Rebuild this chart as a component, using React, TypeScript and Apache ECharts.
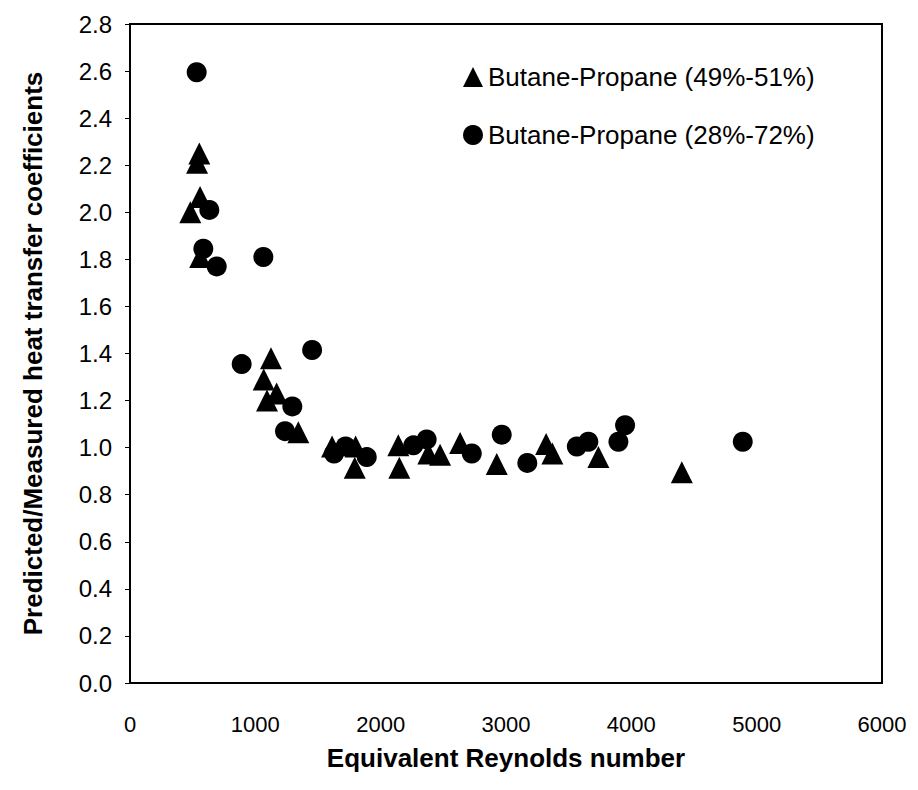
import React, { useEffect, useRef } from "react";
import * as echarts from "echarts";

const seriesNames = ["Butane-Propane (49%-51%)", "Butane-Propane (28%-72%)"];

const reynolds4951 = [553, 535, 559, 481, 560, 1125, 1067, 1170, 1093, 1343, 1612, 1800, 1793, 2141, 2149, 2380, 2474, 2634, 2926, 3320, 3370, 3737, 4403];
const ratio4951 = [2.25, 2.21, 2.065, 2.0, 1.81, 1.38, 1.29, 1.23, 1.2, 1.065, 1.005, 1.005, 0.915, 1.01, 0.915, 0.975, 0.97, 1.02, 0.93, 1.015, 0.975, 0.96, 0.895];

const reynolds2872 = [532, 633, 585, 692, 1064, 891, 1453, 1295, 1237, 1628, 1720, 1889, 2261, 2367, 2727, 2966, 3170, 3565, 3657, 3897, 3950, 4889];
const ratio2872 = [2.595, 2.01, 1.845, 1.77, 1.81, 1.355, 1.415, 1.175, 1.07, 0.975, 1.005, 0.96, 1.01, 1.035, 0.975, 1.055, 0.935, 1.005, 1.025, 1.025, 1.095, 1.025];

const xTitle = "Equivalent Reynolds number";
const yTitle = "Predicted/Measured heat transfer coefficients";

const FONT = "'Liberation Sans', Arial, sans-serif";

export default function App() {
  const ref = useRef<HTMLDivElement>(null);
  useEffect(() => {
    if (!ref.current) return;
    const chart = echarts.init(ref.current, undefined, { renderer: "svg" });
    const d1 = reynolds4951.map((x, i) => [x, ratio4951[i]]);
    const d2 = reynolds2872.map((x, i) => [x, ratio2872[i]]);
    chart.setOption({
      animation: false,
      backgroundColor: "#fff",
      grid: {
        left: 130,
        right: 36,
        top: 24,
        bottom: 107,
        show: true,
        borderColor: "#000",
        borderWidth: 2,
        backgroundColor: "transparent",
      },
      legend: {
        orient: "vertical",
        left: 458,
        top: 59,
        itemWidth: 20,
        itemHeight: 20,
        itemGap: 32,
        textStyle: { fontSize: 26, color: "#000", fontFamily: FONT },
        data: [
          { name: seriesNames[0], icon: "triangle", itemStyle: { opacity: 1 } },
          { name: seriesNames[1], icon: "circle", itemStyle: { opacity: 1 } },
        ],
      },
      xAxis: {
        type: "value",
        min: 0,
        max: 6000,
        interval: 1000,
        name: xTitle,
        nameLocation: "middle",
        nameGap: 62,
        nameTextStyle: { fontSize: 26, fontWeight: "bold", color: "#000", fontFamily: FONT },
        axisLine: { show: true, lineStyle: { color: "#000", width: 2 } },
        axisTick: { show: false },
        axisLabel: { fontSize: 22, color: "#000", fontFamily: FONT, margin: 30, formatter: (v: number) => String(v) },
        splitLine: { show: false },
      },
      yAxis: {
        type: "value",
        min: 0,
        max: 2.8,
        interval: 0.2,
        name: yTitle,
        nameLocation: "middle",
        nameGap: 84,
        nameRotate: 90,
        nameTextStyle: { fontSize: 26, fontWeight: "bold", color: "#000", fontFamily: FONT },
        axisLine: { show: true, lineStyle: { color: "#000", width: 2 } },
        axisTick: { show: true, inside: false, length: 5, lineStyle: { color: "#000", width: 1 } },
        axisLabel: {
          fontSize: 24,
          color: "#000",
          fontFamily: FONT,
          margin: 18,
          formatter: (v: number) => v.toFixed(1),
        },
        splitLine: { show: false },
      },
      series: [
        {
          name: seriesNames[0],
          type: "scatter",
          symbol: "triangle",
          symbolSize: 22,
          itemStyle: { color: "#000", opacity: 1 },
          data: d1,
        },
        {
          name: seriesNames[1],
          type: "scatter",
          symbol: "circle",
          symbolSize: 20,
          itemStyle: { color: "#000", opacity: 1 },
          data: d2,
        },
      ],
    });
    return () => chart.dispose();
  }, []);
  return <div ref={ref} style={{ width: 918, height: 790, margin: -8 }} />;
}
